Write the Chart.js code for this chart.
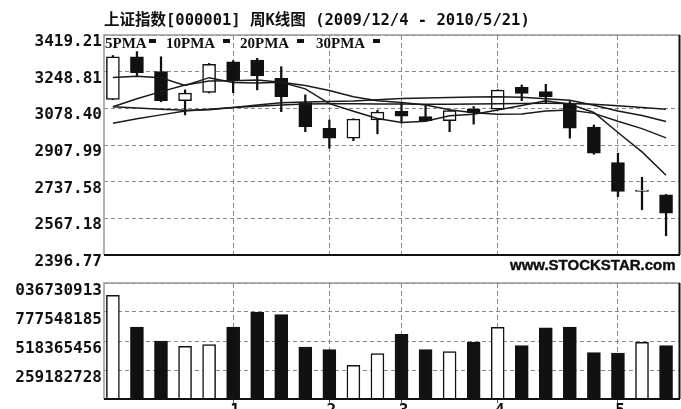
<!DOCTYPE html>
<html>
<head>
<meta charset="utf-8">
<script src="https://cdn.jsdelivr.net/npm/chart.js@4.4.1/dist/chart.umd.min.js"></script>
<style>
  html, body { margin: 0; padding: 0; background: #fff; }
  #wrap { position: relative; width: 681px; height: 409px; overflow: hidden; }
  canvas { position: absolute; left: 0; }
  #price { top: 0; }
  #volume { top: 270px; }
  .title { position: absolute; left: 104px; top: 12px; font: bold 15.5px "DejaVu Sans Mono", "Noto Sans CJK SC", monospace; line-height: 16px; white-space: nowrap; color: #111; }
  .lg { position: absolute; top: 35px; font: bold 15px "Liberation Serif", serif; line-height: 16px; color: #111; }
  .mk { position: absolute; top: 39px; width: 7px; height: 4px; background: #111; }
  .site { position: absolute; left: 510px; top: 258px; font: bold 15px "Liberation Sans", Arial, sans-serif; line-height: 14px; color: #111; -webkit-text-stroke: 0.4px #111; }
</style>
</head>
<body>
<div id="wrap">
  <canvas id="price" width="681" height="270"></canvas>
  <canvas id="volume" width="681" height="139"></canvas>
  <div class="title">上证指数[000001] 周K线图 (2009/12/4 - 2010/5/21)</div>
  <span class="lg" style="left:105px">5PMA</span><span class="mk" style="left:149px"></span>
  <span class="lg" style="left:166px">10PMA</span><span class="mk" style="left:223px"></span>
  <span class="lg" style="left:240px">20PMA</span><span class="mk" style="left:297px"></span>
  <span class="lg" style="left:316px">30PMA</span><span class="mk" style="left:373px"></span>
  <div class="site">www.STOCKSTAR.com</div>
</div>
<script>
// 周K线数据 (2009/12/4 - 2010/5/21)
const weeks = ['2009/12/4', '12/11', '12/18', '12/25', '12/31', '2010/1/8', '1/15', '1/22', '1/29',
    '2/5', '2/12', '2/26', '3/5', '3/12', '3/19', '3/26', '4/2', '4/9', '4/16', '4/23', '4/30',
    '5/7', '5/14', '5/21'];
const opens  = [3120, 3318, 3249, 3114, 3152, 3295, 3303, 3218, 3105, 2986, 2940, 3024,
    3064, 3040, 3021, 3075, 3075, 3176, 3156, 3102, 2991, 2826, 2692, 2676];
const closes = [3318, 3244, 3114, 3149, 3283, 3207, 3229, 3133, 2993, 2940, 3028, 3061,
    3042, 3020, 3068, 3057, 3163, 3148, 3133, 2986, 2870, 2692, 2699, 2591];
const highs  = [3324, 3342, 3318, 3164, 3287, 3300, 3311, 3272, 3141, 3024, 3030, 3070,
    3103, 3091, 3070, 3087, 3165, 3187, 3190, 3110, 3001, 2870, 2758, 2678];
const lows   = [3119, 3229, 3109, 3048, 3150, 3151, 3164, 3063, 2970, 2893, 2928, 2960,
    3010, 3018, 2970, 3005, 3074, 3114, 3105, 2940, 2865, 2668, 2607, 2486];
const volumes = [926000000, 643000000, 518000000, 471000000, 486000000, 643000000, 775000000,
    754000000, 465000000, 441000000, 301000000, 405000000, 578000000, 441000000, 423000000,
    509000000, 641000000, 477000000, 635000000, 643000000, 414000000, 411000000, 506000000,
    477000000];

// 均线
const ma5  = [3222, 3228, 3220, 3185, 3221, 3199, 3196, 3200, 3169, 3100, 3065, 3031,
    3013, 3018, 3044, 3051, 3071, 3092, 3114, 3097, 3059, 2966, 2876, 2767];
const ma10 = [3086, 3123, 3156, 3187, 3205, 3207, 3210, 3200, 3185, 3161, 3132, 3114,
    3106, 3094, 3072, 3058, 3051, 3052, 3066, 3071, 3055, 3018, 2984, 2941];
const ma20 = [3086, 3080, 3074, 3069, 3072, 3082, 3094, 3104, 3108, 3110, 3112, 3118,
    3124, 3127, 3129, 3131, 3132, 3130, 3123, 3116, 3093, 3066, 3045, 3017];
const ma30 = [3009, 3030, 3048, 3066, 3074, 3082, 3088, 3094, 3098, 3100, 3100, 3099,
    3098, 3097, 3097, 3098, 3100, 3101, 3102, 3101, 3097, 3090, 3082, 3074];

// 坐标刻度
const priceTicks = [2396.77, 2567.18, 2737.58, 2907.99, 3078.40, 3248.81, 3419.21];
const volumeTicks = [259182728, 518365456, 777548185, 1036730913];
const volumeTickLabels = ['259182728', '518365456', '777548185', '036730913'];
const monthTicks = [5, 9, 12, 16, 21];
const monthLabels = ['1', '2', '3', '4', '5'];

const upFlags = closes.map((c, i) => c >= opens[i]);
const fillColors = upFlags.map(u => u ? '#ffffff' : '#111111');

const tickFont = { family: 'DejaVu Sans Mono', size: 16, weight: 'bold', lineHeight: 1 };
const gridColor = '#8a8a8a';

// 边框
const framePlugin = {
    id: 'frame',
    afterDraw(chart) {
        const { ctx, chartArea: a } = chart;
        ctx.save();
        ctx.strokeStyle = '#999';
        ctx.lineWidth = 1.5;
        ctx.beginPath();
        ctx.moveTo(a.left, a.bottom);
        ctx.lineTo(a.left, a.top);
        ctx.lineTo(a.right, a.top);
        ctx.stroke();
        ctx.strokeStyle = '#111';
        ctx.lineWidth = 2;
        ctx.beginPath();
        ctx.moveTo(a.left, a.bottom);
        ctx.lineTo(a.right, a.bottom);
        ctx.moveTo(a.right - 0.5, a.top);
        ctx.lineTo(a.right - 0.5, a.bottom);
        ctx.stroke();
        ctx.restore();
    }
};

function xAxis(showLabels) {
    return {
        type: 'linear',
        min: -0.37,
        max: 23.58,
        offset: false,
        afterBuildTicks: s => { s.ticks = monthTicks.map(v => ({ value: v })); },
        afterFit: s => { s.height = showLabels ? 10 : 0; },
        grid: {
            offset: false,
            color: gridColor,
            lineWidth: 1,
            drawTicks: showLabels,
            tickLength: 4,
            tickColor: '#555',
            tickBorderDash: []
        },
        border: { display: false, dash: [5, 3] },
        ticks: {
            display: showLabels,
            padding: 0,
            labelOffset: 2,
            maxRotation: 0,
            color: '#111',
            font: tickFont,
            callback: v => monthLabels[monthTicks.indexOf(v)]
        }
    };
}

const lineSet = (vals) => ({
    type: 'line',
    data: vals.map((v, i) => ({ x: i, y: v })),
    borderColor: '#1a1a1a',
    borderWidth: 1.5,
    pointRadius: 0,
    fill: false,
    tension: 0,
    order: 0
});

new Chart(document.getElementById('price'), {
    type: 'bar',
    data: {
        datasets: [
            lineSet(ma5), lineSet(ma10), lineSet(ma20), lineSet(ma30),
            {
                type: 'bar',
                data: opens.map((o, i) => ({ x: i, y: [o, closes[i]] })),
                backgroundColor: fillColors,
                borderColor: '#111',
                borderWidth: 1.5,
                borderSkipped: false,
                barThickness: 13,
                grouped: false,
                order: 1
            },
            {
                type: 'bar',
                data: lows.map((l, i) => ({ x: i, y: [l, highs[i]] })),
                backgroundColor: '#111',
                borderWidth: 0,
                barThickness: 1.6,
                grouped: false,
                order: 2
            }
        ]
    },
    options: {
        responsive: false,
        animation: false,
        layout: { padding: { top: 35, right: 1, bottom: 15, left: 0 } },
        plugins: { legend: { display: false }, tooltip: { enabled: false } },
        scales: {
            x: xAxis(false),
            y: {
                min: 2396.77,
                max: 3419.21,
                afterBuildTicks: s => { s.ticks = priceTicks.map(v => ({ value: v })); },
                afterFit: s => { s.width = 104; },
                grid: { color: gridColor, drawTicks: false },
                border: { display: false, dash: [4, 3] },
                ticks: {
                    padding: 2,
                    labelOffset: 7,
                    color: '#111',
                    font: tickFont,
                    callback: v => v.toFixed(2)
                }
            }
        }
    },
    plugins: [framePlugin]
});

new Chart(document.getElementById('volume'), {
    type: 'bar',
    data: {
        datasets: [{
            data: volumes.map((v, i) => ({ x: i, y: v })),
            backgroundColor: fillColors,
            borderColor: '#111',
            borderWidth: 1.5,
            barThickness: 13,
            grouped: false
        }]
    },
    options: {
        responsive: false,
        animation: false,
        layout: { padding: { top: 13, right: 1, bottom: 0, left: 0 } },
        plugins: { legend: { display: false }, tooltip: { enabled: false } },
        scales: {
            x: xAxis(true),
            y: {
                min: 0,
                max: 1036730913,
                afterBuildTicks: s => { s.ticks = volumeTicks.map(v => ({ value: v })); },
                afterFit: s => { s.width = 104; },
                grid: { color: gridColor, drawTicks: false },
                border: { display: false, dash: [4, 3] },
                ticks: {
                    padding: 2,
                    labelOffset: 8,
                    color: '#111',
                    font: tickFont,
                    callback: v => volumeTickLabels[volumeTicks.indexOf(v)]
                }
            }
        }
    },
    plugins: [framePlugin]
});
</script>
</body>
</html>
